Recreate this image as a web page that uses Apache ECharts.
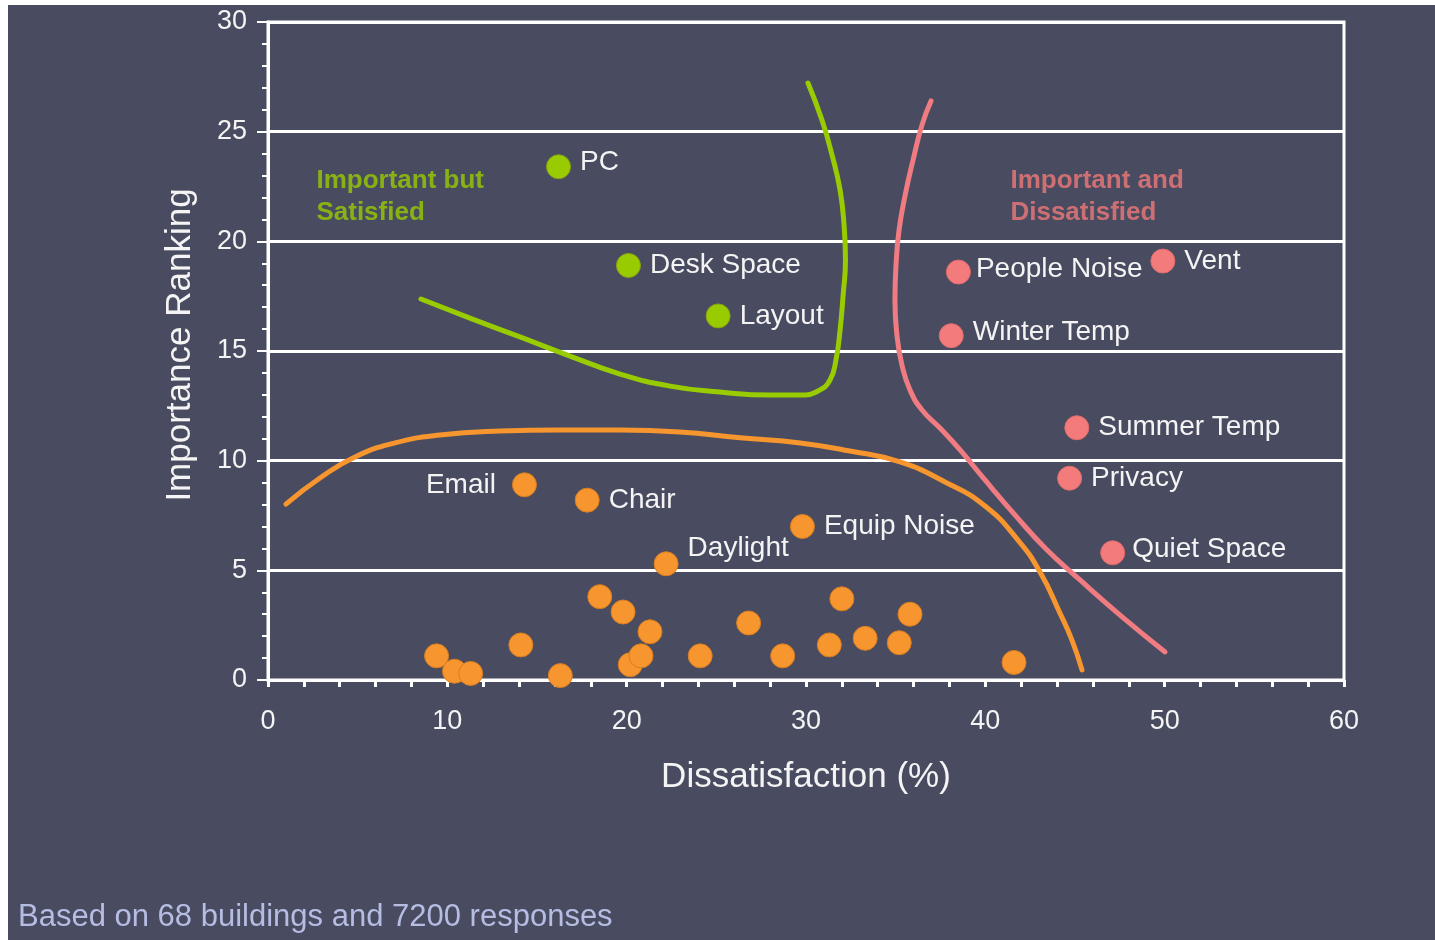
<!DOCTYPE html>
<html>
<head>
<meta charset="utf-8">
<title>Importance vs Dissatisfaction</title>
<script src="https://cdn.jsdelivr.net/npm/echarts@6/dist/echarts.min.js"></script>
<style>
  html, body { margin: 0; padding: 0; background: #ffffff; }
  #chart { position: absolute; left: 8px; top: 5px; width: 1427px; height: 935px; background: #494c61; }
</style>
</head>
<body>
<div id="chart"></div>
<script>
// Workspace issues: dissatisfaction (%) against importance ranking
const satisfiedNames = ['PC', 'Desk Space', 'Layout'];
const satisfiedX = [16.2, 20.1, 25.1];
const satisfiedY = [23.4, 18.9, 16.6];

const dissatisfiedNames = ['People Noise', 'Vent', 'Winter Temp', 'Summer Temp', 'Privacy', 'Quiet Space'];
const dissatisfiedX = [38.5, 49.9, 38.1, 45.1, 44.7, 47.1];
const dissatisfiedY = [18.6, 19.1, 15.7, 11.5, 9.2, 5.8];

const lowNames = ['Email', 'Chair', 'Equip Noise', 'Daylight'];
const lowX = [14.3, 17.8, 29.8, 22.2];
const lowY = [8.9, 8.2, 7.0, 5.3];

// remaining low-importance items (unlabelled)
const otherX = [9.4, 10.4, 11.3, 14.1, 16.3, 18.5, 19.8, 21.3, 20.2, 20.8, 24.1, 26.8, 28.7, 32.0, 31.3, 33.3, 35.2, 35.8, 41.6];
const otherY = [1.1, 0.4, 0.3, 1.6, 0.2, 3.8, 3.1, 2.2, 0.7, 1.1, 1.1, 2.6, 1.1, 3.7, 1.6, 1.9, 1.7, 3.0, 0.8];

// hand-drawn boundary curves
const greenCurveX = [8.53, 11.26, 14.05, 16.84, 19.63, 22.42, 25.20, 27.99, 29.67, 30.67, 31.34, 31.67, 31.90, 32.07, 32.20, 32.12, 31.90, 31.45, 30.89, 30.11];
const greenCurveY = [17.37, 16.50, 15.64, 14.77, 13.95, 13.40, 13.13, 12.99, 12.99, 13.18, 13.68, 14.59, 15.96, 17.55, 19.15, 20.75, 22.34, 23.94, 25.53, 27.22];
const redCurveX = [36.97, 36.47, 35.97, 35.53, 35.19, 35.02, 34.96, 35.07, 35.35, 35.80, 36.47, 37.47, 38.59, 39.98, 41.66, 43.33, 45.28, 47.51, 50.02];
const redCurveY = [26.40, 25.31, 23.71, 22.11, 20.52, 18.92, 17.33, 15.73, 14.36, 13.22, 12.31, 11.49, 10.49, 9.12, 7.52, 6.02, 4.56, 2.96, 1.28];
const orangeCurveX = [1.00, 2.90, 4.85, 7.08, 9.59, 12.94, 16.28, 19.63, 22.97, 26.32, 29.67, 32.45, 35.24, 37.75, 39.98, 41.82, 43.05, 44.16, 44.83, 45.39];
const orangeCurveY = [8.02, 9.21, 10.17, 10.81, 11.17, 11.35, 11.40, 11.40, 11.31, 11.04, 10.81, 10.44, 9.94, 9.03, 7.93, 6.38, 4.92, 3.05, 1.82, 0.46];

const xTicks = [0, 10, 20, 30, 40, 50, 60];
const yTicks = [0, 5, 10, 15, 20, 25, 30];

const regionNames = ['Important but\nSatisfied', 'Important and\nDissatisfied'];
const regionX = [2.7, 41.4];
const regionY = [22.05, 22.05];

const footNote = 'Based on 68 buildings and 7200 responses';

const GREEN = '#99cc00';
const RED = '#f47b7b';
const ORANGE = '#f7962e';
const FONT = '"Liberation Sans", Arial, Helvetica, sans-serif';

const pairs = (xs, ys) => xs.map((x, i) => [x, ys[i]]);

// per-label placement tweaks
const labelTweaks = {
  'PC': { offset: [0, -4] },
  'People Noise': { offset: [-4, -3] },
  'Winter Temp': { offset: [0, -3] },
  'Quiet Space': { offset: [-2, -4] },
  'Email': { position: 'left', distance: 16 },
  'Daylight': { offset: [0, -15] }
};

function namedPoints(names, xs, ys) {
  return names.map((n, i) => {
    const item = { name: n, value: [xs[i], ys[i]] };
    if (labelTweaks[n]) item.label = labelTweaks[n];
    return item;
  });
}

function curve(xs, ys, color) {
  return {
    type: 'line',
    data: pairs(xs, ys),
    smooth: 0.5,
    symbol: 'none',
    clip: false,
    silent: true,
    z: 3,
    lineStyle: { color: color, width: 5, cap: 'round', join: 'round' }
  };
}

function points(data, color, border) {
  return {
    type: 'scatter',
    data: data,
    symbolSize: 24,
    clip: false,
    z: 5,
    itemStyle: { color: color, opacity: 1, borderColor: border, borderWidth: 1 },
    label: {
      show: true,
      position: 'right',
      distance: 9,
      formatter: '{b}',
      color: '#f4f4f4',
      fontFamily: FONT,
      fontSize: 28
    }
  };
}

const chart = echarts.init(document.getElementById('chart'), null, { renderer: 'canvas' });

chart.setOption({
  backgroundColor: '#494c61',
  animation: false,
  grid: {
    left: 260, right: 91, top: 17, bottom: 260,
    show: true, borderColor: '#ffffff', borderWidth: 3, backgroundColor: 'transparent'
  },
  xAxis: {
    type: 'value',
    min: xTicks[0], max: xTicks[xTicks.length - 1], interval: 10,
    name: 'Dissatisfaction (%)',
    nameLocation: 'middle',
    nameGap: 80,
    nameTextStyle: { color: '#f4f4f4', fontFamily: FONT, fontSize: 35 },
    axisLine: { show: true, lineStyle: { color: '#ffffff', width: 3 } },
    axisTick: { show: true, length: 7, lineStyle: { color: '#ffffff', width: 3 } },
    minorTick: { show: true, splitNumber: 5, length: 7, lineStyle: { color: '#ffffff', width: 3 } },
    splitLine: { show: false },
    axisLabel: { color: '#f4f4f4', fontFamily: FONT, fontSize: 27, margin: 28 }
  },
  yAxis: {
    type: 'value',
    min: yTicks[0], max: yTicks[yTicks.length - 1], interval: 5,
    name: 'Importance Ranking',
    nameLocation: 'middle',
    nameGap: 70,
    nameTextStyle: { color: '#f4f4f4', fontFamily: FONT, fontSize: 35, padding: [0, 0, 0, 12] },
    axisLine: { show: true, lineStyle: { color: '#ffffff', width: 3 } },
    axisTick: { show: true, length: 11, lineStyle: { color: '#ffffff', width: 2 } },
    minorTick: { show: true, splitNumber: 5, length: 6, lineStyle: { color: '#ffffff', width: 2 } },
    splitLine: { show: true, lineStyle: { color: '#ffffff', width: 3 } },
    axisLabel: { color: '#f4f4f4', fontFamily: FONT, fontSize: 27, margin: 21 }
  },
  series: [
    curve(orangeCurveX, orangeCurveY, ORANGE),
    curve(greenCurveX, greenCurveY, GREEN),
    curve(redCurveX, redCurveY, '#f07c82'),
    points(pairs(otherX, otherY), ORANGE, '#d97d1f'),
    points(namedPoints(lowNames, lowX, lowY), ORANGE, '#d97d1f'),
    points(namedPoints(satisfiedNames, satisfiedX, satisfiedY), GREEN, '#8aa014'),
    points(namedPoints(dissatisfiedNames, dissatisfiedX, dissatisfiedY), RED, '#e06c6c'),
    {
      // quadrant captions anchored in data space
      type: 'scatter',
      symbolSize: 0,
      clip: false,
      silent: true,
      z: 6,
      data: regionNames.map((n, i) => ({
        name: n,
        value: [regionX[i], regionY[i]],
        label: { color: i === 0 ? GREEN : '#f07878' }
      })),
      label: {
        show: true,
        position: 'right',
        distance: 0,
        formatter: '{b}',
        align: 'left',
        fontFamily: FONT,
        fontWeight: 'bold',
        fontSize: 26,
        lineHeight: 32
      }
    }
  ],
  graphic: [{
    type: 'text',
    left: 10,
    top: 897,
    style: {
      text: footNote,
      fill: '#b6bde3',
      font: '31px "Liberation Sans", Arial, sans-serif'
    }
  }]
});
</script>
</body>
</html>
